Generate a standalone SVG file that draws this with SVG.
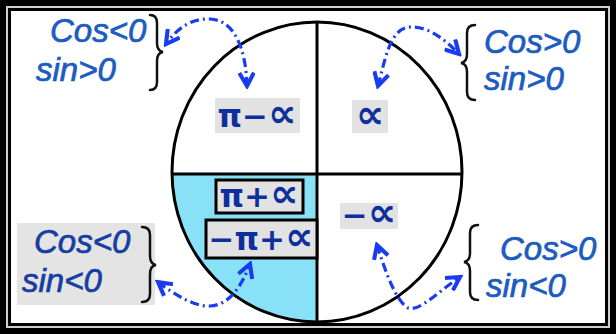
<svg xmlns="http://www.w3.org/2000/svg" width="616" height="334" viewBox="0 0 616 334">
<style>
.hw{font-family:"Liberation Sans","DejaVu Sans",sans-serif;font-style:italic;font-size:33px;fill:#1c5bbf;stroke:#1c5bbf;stroke-width:0.7}
.hw2{fill:#163da3;stroke:#163da3}
.m{font-family:"DejaVu Sans","Liberation Sans",sans-serif;font-weight:bold;font-size:31px;fill:#0e2f9c;text-anchor:middle}
.a{font-size:40px}
.br{fill:none;stroke:#111;stroke-width:2.5;stroke-linecap:round}
.arr{fill:none;stroke:#1a3cf0;stroke-width:3.2;stroke-dasharray:9 4 2 4;marker-start:url(#ah);marker-end:url(#ah)}
.lab{fill:#e2e2e2}
.labb{fill:#e2e2e2;stroke:#000;stroke-width:3}
</style>
<defs>
<marker id="ah" viewBox="0 0 12 12" refX="10" refY="6" markerWidth="5.5" markerHeight="5.5" orient="auto-start-reverse" markerUnits="strokeWidth">
<path d="M1,1 L10,6 L1,11" fill="none" stroke="#1a3cf0" stroke-width="2.8" stroke-linejoin="miter"/>
</marker>
</defs>
<rect x="0" y="0" width="616" height="334" fill="#000"/>
<rect x="6" y="6" width="604" height="322" fill="#cfcfcf"/>
<rect x="8" y="8" width="600" height="318" fill="#000"/>
<rect x="11" y="11" width="594" height="312" fill="#fff"/>
<g id="circle">
<path d="M317 174 L172 174 A145 150 0 0 0 317 322 Z" fill="#88e1f6"/>
<ellipse cx="317" cy="172" rx="145" ry="150" fill="none" stroke="#000" stroke-width="3"/>
<line x1="317" y1="22" x2="317" y2="322" stroke="#000" stroke-width="3"/>
<line x1="172" y1="174" x2="462" y2="174" stroke="#000" stroke-width="3"/>
</g>
<g id="q2">
<rect class="lab" x="215" y="98" width="85" height="35"/>
<text class="m" x="257" y="127">π−<tspan class="a">∝</tspan></text>
</g>
<g id="q1">
<rect class="lab" x="352" y="100" width="36" height="33"/>
<text class="m a" x="370" y="128">∝</text>
</g>
<g id="q3a">
<rect class="labb" x="216" y="180" width="87" height="33"/>
<text class="m" x="259" y="207">π+<tspan class="a">∝</tspan></text>
</g>
<g id="q3b">
<rect class="labb" x="206" y="220" width="111" height="38"/>
<text class="m" x="261" y="250">−π+<tspan class="a">∝</tspan></text>
</g>
<g id="q4">
<rect class="lab" x="340" y="203" width="58" height="26"/>
<text class="m" x="369" y="226">−<tspan class="a">∝</tspan></text>
</g>
<g id="tl">
<text class="hw" x="50" y="42">Cos&lt;0</text>
<text class="hw" x="36" y="81">sin&gt;0</text>
<path class="br" d="M150 15 Q157 15 157 23 L157 43 Q157 51 163 52 Q157 53 157 61 L157 82 Q157 90 150 90"/>
</g>
<g id="tr">
<path class="br" d="M475 25 Q467 25 467 33 L467 54 Q467 62 461 63 Q467 64 467 72 L467 92 Q467 100 475 100"/>
<text class="hw" x="484" y="53">Cos&gt;0</text>
<text class="hw" x="484" y="90">sin&gt;0</text>
</g>
<g id="bl">
<rect x="17" y="223" width="138" height="82" fill="#e4e4e4"/>
<text class="hw hw2" x="34" y="253">Cos&lt;0</text>
<text class="hw hw2" x="22" y="292">sin&lt;0</text>
<path class="br" d="M142 227 Q150 227 150 235 L150 256 Q150 264 156 265 Q150 266 150 274 L150 294 Q150 302 142 302"/>
</g>
<g id="brq">
<path class="br" d="M478 225 Q470 225 470 233 L470 253 Q470 261 464 262 Q470 263 470 271 L470 292 Q470 300 478 300"/>
<text class="hw" x="500" y="260">Cos&gt;0</text>
<text class="hw" x="486" y="297">sin&lt;0</text>
</g>
<g id="connectors">
<path class="arr" d="M247 86 C246 50 235 20 210 19 C190 18 176 30 166 44"/>
<path class="arr" d="M378 86 C385 60 390 28 410 27 C425 26 442 36 459 54"/>
<path class="arr" d="M158 282 C175 295 195 307 210 306 C230 305 242 285 250 264"/>
<path class="arr" d="M377 245 C385 270 395 300 408 308 C420 312 440 290 460 277"/>
</g>
</svg>
